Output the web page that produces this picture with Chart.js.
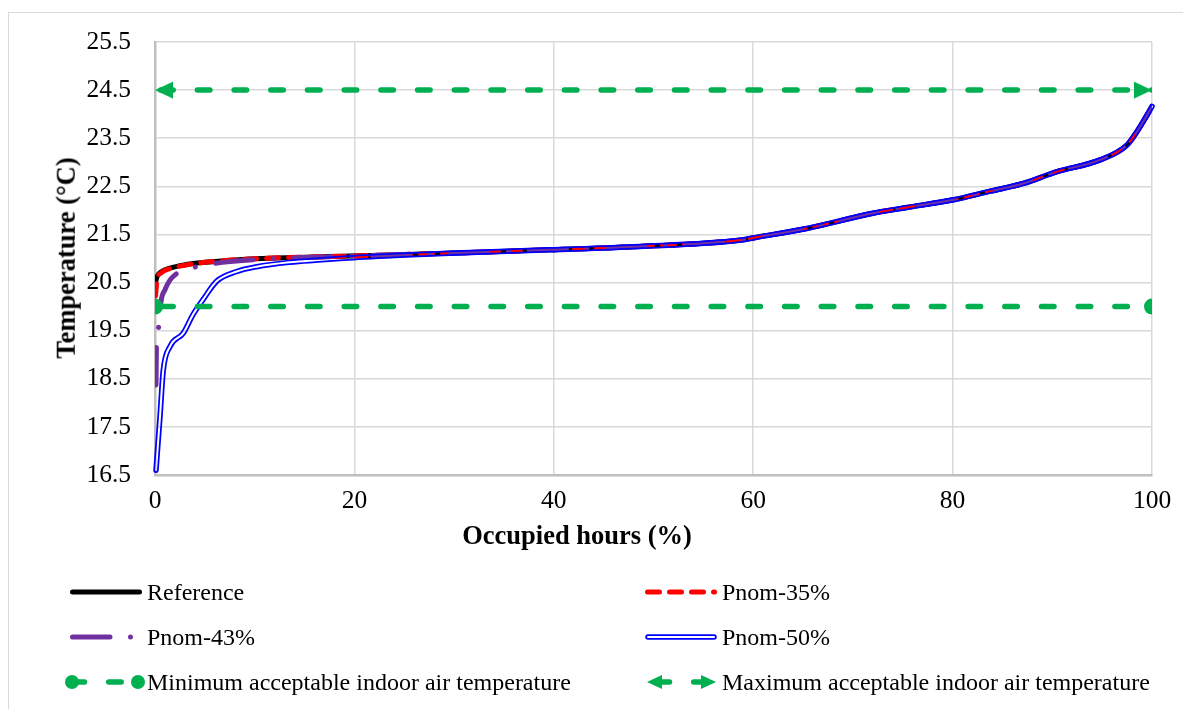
<!DOCTYPE html>
<html>
<head>
<meta charset="utf-8">
<script src="https://cdn.jsdelivr.net/npm/chart.js@4.4.1/dist/chart.umd.min.js"></script>
<style>
  html, body { margin: 0; padding: 0; background: #fff; }
  #wrap { position: relative; width: 1183px; height: 709px; overflow: hidden; background: #fff; }
  #frame { position: absolute; left: 8px; top: 12px; width: 1200px; height: 720px; border: 1px solid #d9d9d9; }
  #chart { position: absolute; left: 0; top: 0; }
  .txt { position: absolute; font-family: 'Liberation Serif', 'Times New Roman', serif; color: #000; white-space: nowrap; }
  .axis-title { font-weight: bold; font-size: 26.5px; line-height: 26.5px; }
  .leg { font-size: 24px; line-height: 24px; }
</style>
</head>
<body>
<div id="wrap">
  <div id="frame"></div>
  <canvas id="chart" width="1183" height="709"></canvas>
  <div class="txt axis-title" style="left:577px; top:522px; transform:translateX(-50%);">Occupied hours (%)</div>
  <div class="txt axis-title" style="left:66px; top:258px; transform:translate(-50%,-50%) rotate(-90deg);">Temperature (°C)</div>
  <div id="legend"></div>
</div>
<script>
// ----------------------------------------------------------
// Data (occupied hours % / temperature °C)
// ----------------------------------------------------------

// upper part of the curves, the four runs coincide here
const tailHours = [19.5, 29.5, 39.6, 48.6, 58.6, 60.6, 65.5, 72.0, 75.4, 80.1, 83.8, 87.1, 90.4, 94.8, 97.5, 98.5, 99.5, 100];
const tailTemp  = [21.05, 21.11, 21.18, 21.25, 21.38, 21.45, 21.63, 21.94, 22.06, 22.22, 22.40, 22.56, 22.80, 23.05, 23.36, 23.64, 23.98, 24.16];

// first hours of each run
const refHours = [0, 0.2, 0.6, 1.5, 3.0, 4.5, 9.5];
const refTemp  = [20.45, 20.62, 20.72, 20.80, 20.87, 20.91, 20.99];

const p35Hours = [0.05, 0.2, 0.6, 1.5, 3.0, 4.5, 9.5];
const p35Temp  = [20.22, 20.55, 20.70, 20.79, 20.86, 20.91, 20.99];

const p43Hours = [0.1, 0.15, 0.4, 0.6, 1.0, 1.5, 2.2, 4.0, 6.0, 9.5];
const p43Temp  = [18.37, 19.20, 19.60, 20.10, 20.35, 20.55, 20.69, 20.82, 20.90, 20.97];

const p50Hours = [0.1, 0.5, 0.83, 1.5, 2.84, 3.8, 4.8, 6.2, 8.2, 10.2, 13.5, 18.5, 24];
const p50Temp  = [16.60, 17.71, 18.68, 19.17, 19.45, 19.83, 20.14, 20.53, 20.73, 20.83, 20.92, 21.00, 21.06];

// comfort limits
const limitHours = [0, 100];
const minTemp = [20, 20];
const maxTemp = [24.5, 24.5];

const labels = [
    'Reference', 'Pnom-35%', 'Pnom-43%', 'Pnom-50%',
    'Minimum acceptable indoor air temperature', 'Maximum acceptable indoor air temperature'
];

const xTicks = { min: 0, max: 100, step: 20 };
const yTicks = { min: 16.5, max: 25.5, step: 1 };

// ----------------------------------------------------------

const GREEN = '#00b050';
const SERIF = "'Liberation Serif', 'Times New Roman', serif";

const toPoints = (xs, ys) => xs.map((x, i) => ({ x: x, y: ys[i] }));

// arrow heads for the max line, tip sits at the centre of the canvas
function makeArrow(dir) {
    const c = document.createElement('canvas');
    c.width = 40; c.height = 20;
    const g = c.getContext('2d');
    g.fillStyle = GREEN;
    g.beginPath();
    if (dir > 0) { g.moveTo(20, 10); g.lineTo(2, 1.5); g.lineTo(2, 18.5); }
    else { g.moveTo(20, 10); g.lineTo(38, 1.5); g.lineTo(38, 18.5); }
    g.closePath();
    g.fill();
    return c;
}

const datasets = [
    {
        label: labels[0],
        data: toPoints(refHours.concat(tailHours), refTemp.concat(tailTemp)),
        borderColor: '#000000', borderWidth: 5,
        cubicInterpolationMode: 'monotone', order: 5
    },
    {
        label: labels[1],
        data: toPoints(p35Hours.concat(tailHours), p35Temp.concat(tailTemp)),
        borderColor: '#ff0000', borderWidth: 5, borderDash: [12, 10],
        cubicInterpolationMode: 'monotone', order: 4
    },
    {
        label: labels[2],
        data: toPoints(p43Hours.concat(tailHours), p43Temp.concat(tailTemp)),
        borderColor: '#7030a0', borderWidth: 5, borderDash: [37.5, 20.5, 0.001, 20.5],
        cubicInterpolationMode: 'monotone', order: 3
    },
    {
        label: labels[3],
        data: toPoints(p50Hours.concat(tailHours.slice(1)), p50Temp.concat(tailTemp.slice(1))),
        borderColor: '#0000ff', borderWidth: 5.5, innerWidth: 2, doubleLine: true,
        cubicInterpolationMode: 'monotone', order: 2
    },
    {
        label: labels[4],
        data: toPoints(limitHours, minTemp),
        borderColor: GREEN, borderWidth: 5.5, borderDash: [12.5, 24.2], borderDashOffset: 31,
        pointRadius: 8, pointStyle: 'circle', pointBackgroundColor: GREEN, pointBorderWidth: 0,
        marker: 'circle', order: 1
    },
    {
        label: labels[5],
        data: toPoints(limitHours, maxTemp),
        borderColor: GREEN, borderWidth: 5.5, borderDash: [12.5, 24.2], borderDashOffset: 31,
        pointRadius: 8, pointStyle: [makeArrow(-1), makeArrow(1)], pointBorderWidth: 0,
        marker: 'arrow', order: 0
    }
];

// double (hollow) line like Excel's compound line: stroke wide, cut out the middle
const doubleLinePlugin = {
    id: 'doubleLine',
    beforeDatasetDraw(chart, args) {
        const ds = chart.data.datasets[args.index];
        if (!ds.doubleLine) return;
        const off = document.createElement('canvas');
        off.width = chart.canvas.width;
        off.height = chart.canvas.height;
        const o = off.getContext('2d');
        o.scale(chart.currentDevicePixelRatio, chart.currentDevicePixelRatio);
        o.lineJoin = 'round';
        o.lineCap = 'round';
        o.beginPath();
        args.meta.dataset.path(o);
        o.strokeStyle = ds.borderColor;
        o.lineWidth = ds.borderWidth;
        o.stroke();
        o.globalCompositeOperation = 'destination-out';
        o.lineWidth = ds.innerWidth;
        o.stroke();

        const a = chart.chartArea;
        const ctx = chart.ctx;
        ctx.save();
        ctx.beginPath();
        ctx.rect(a.left - 3, a.top - 3, a.right - a.left + 6, a.bottom - a.top + 6);
        ctx.clip();
        ctx.drawImage(off, 0, 0, chart.width, chart.height);
        ctx.restore();
        return false;
    }
};

// legend: two columns, three rows
const legendCols = [70, 645];
const legendRows = [592, 637, 682];
const legendLayout = [[0, 0], [1, 0], [0, 1], [1, 1], [0, 2], [1, 2]];
const SYMBOL_W = 72;

function drawSymbol(ctx, ds, x0, y) {
    const x1 = x0 + SYMBOL_W;
    ctx.save();
    ctx.lineCap = 'round';
    if (ds.doubleLine) {
        ctx.beginPath();
        ctx.moveTo(x0 + 3, y); ctx.lineTo(x1 - 3, y);
        ctx.strokeStyle = ds.borderColor; ctx.lineWidth = ds.borderWidth; ctx.stroke();
        ctx.strokeStyle = '#fff'; ctx.lineWidth = ds.innerWidth; ctx.stroke();
        ctx.restore();
        return;
    }
    let a = x0 + 2.5, b = x1 - 2.5;
    if (ds.marker === 'circle') { a = x0 + 2; b = x1 - 4; }
    if (ds.marker === 'arrow') { a = x0 + 2; b = x1 - 1; }
    ctx.setLineDash(ds.borderDash || []);
    ctx.strokeStyle = ds.borderColor;
    ctx.lineWidth = ds.borderWidth;
    ctx.beginPath();
    if (ds.marker === 'arrow') { ctx.moveTo(a + 10, y); ctx.lineTo(b - 10, y); }
    else { ctx.moveTo(a, y); ctx.lineTo(b, y); }
    ctx.stroke();
    ctx.fillStyle = ds.borderColor;
    if (ds.marker === 'circle') {
        [a, b].forEach(cx => { ctx.beginPath(); ctx.arc(cx, y, 7, 0, Math.PI * 2); ctx.fill(); });
    }
    if (ds.marker === 'arrow') {
        ctx.beginPath(); ctx.moveTo(a, y); ctx.lineTo(a + 15, y - 7); ctx.lineTo(a + 15, y + 7); ctx.fill();
        ctx.beginPath(); ctx.moveTo(b, y); ctx.lineTo(b - 15, y - 7); ctx.lineTo(b - 15, y + 7); ctx.fill();
    }
    ctx.restore();
}

const legendPlugin = {
    id: 'sideLegend',
    afterDraw(chart) {
        chart.data.datasets.forEach((ds, i) => {
            const [c, r] = legendLayout[i];
            drawSymbol(chart.ctx, ds, legendCols[c], legendRows[r]);
        });
    }
};

// legend texts as real html text
const legendBox = document.getElementById('legend');
labels.forEach((t, i) => {
    const [c, r] = legendLayout[i];
    const d = document.createElement('div');
    d.className = 'txt leg';
    d.style.left = (legendCols[c] + SYMBOL_W + 5) + 'px';
    d.style.top = (legendRows[r] - 12) + 'px';
    d.textContent = t;
    legendBox.appendChild(d);
});

const tickFont = { family: SERIF, size: 25.5 };

new Chart(document.getElementById('chart'), {
    type: 'line',
    data: { datasets: datasets },
    options: {
        responsive: false,
        animation: false,
        layout: { padding: { left: 8, top: 42, right: 31, bottom: 0 } },
        elements: {
            point: { radius: 0 },
            line: { borderCapStyle: 'round', borderJoinStyle: 'round' }
        },
        plugins: {
            legend: { display: false },
            tooltip: { enabled: false }
        },
        scales: {
            x: {
                type: 'linear',
                min: xTicks.min, max: xTicks.max,
                ticks: { stepSize: xTicks.step, padding: 11, color: '#000', font: tickFont, maxRotation: 0 },
                grid: { color: '#d9d9d9', lineWidth: 1.5, drawTicks: false },
                border: { color: '#bfbfbf', width: 2.5 },
                afterFit: function (scale) { scale.height = 234; }
            },
            y: {
                type: 'linear',
                min: yTicks.min, max: yTicks.max,
                ticks: {
                    stepSize: yTicks.step, padding: 24, color: '#000', font: tickFont,
                    callback: function (value) { return Number(value).toFixed(1); }
                },
                grid: { color: '#d9d9d9', lineWidth: 1.5, drawTicks: false },
                border: { color: '#bfbfbf', width: 2.5 },
                afterFit: function (scale) { scale.width = 147; }
            }
        }
    },
    plugins: [doubleLinePlugin, legendPlugin]
});
</script>
</body>
</html>
